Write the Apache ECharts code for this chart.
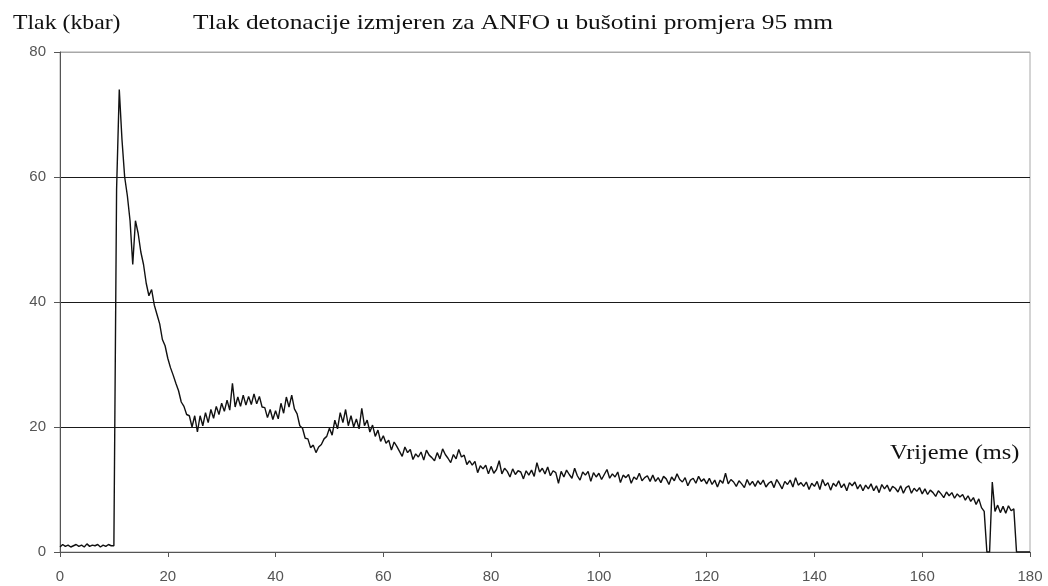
<!DOCTYPE html>
<html>
<head>
<meta charset="utf-8">
<script src="https://cdn.jsdelivr.net/npm/echarts@6/dist/echarts.min.js"></script>
<style>
  html, body { margin: 0; background: #fff; }
  #grafica { width: 1048px; height: 586px; }
</style>
</head>
<body>
<div id="grafica"></div>
<script>
// tiempo en ms, una muestra cada 0.5 ms desde 0
const paso = 0.5;
const ticksX = [0, 20, 40, 60, 80, 100, 120, 140, 160, 180];
const ticksY = [0, 20, 40, 60, 80];

// presion en kbar
const presion = [
  0.8, 1.2, 0.9, 1.1, 0.8, 1.0, 1.2, 0.9, 1.1, 0.8, 1.3, 0.9, 1.1, 1.0, 1.2, 0.8, 1.1, 0.9, 1.2, 1.0,
  1.0, 58, 74, 66, 60, 57, 53, 46, 53, 51, 48, 46, 43, 41, 42, 39.5, 38, 36.5, 34, 33,
  31, 29.5, 28.3, 27, 25.8, 24, 23.3, 22, 21.8, 20, 21.8, 19.2, 21.8, 20.2, 22.3, 20.7, 22.8, 21.4, 23.3, 22,
  23.8, 22.5, 24.3, 22.7, 27, 23.2, 24.8, 23.3, 25.1, 23.5, 24.9, 23.6, 25.3, 23.7, 24.9, 23.2, 23.1, 21.5, 22.8, 21.2,
  22.6, 21.3, 23.8, 22.2, 24.8, 23.2, 25.1, 22.9, 22.1, 20.2, 19.8, 18.2, 18.1, 16.7, 17.1, 15.9, 16.8, 17.2, 18.1, 18.5,
  19.8, 18.7, 21.1, 19.7, 22.3, 20.7, 22.8, 20.2, 21.8, 20.0, 21.3, 19.7, 23, 20.2, 21.1, 19.2, 20.3, 18.5, 19.5, 17.7,
  18.6, 17.4, 17.9, 16.3, 17.6, 16.9, 16.1, 15.3, 16.8, 15.9, 16.4, 14.8, 15.7, 15.2, 16.0, 14.7, 16.3, 15.5, 15.1, 14.6,
  15.9, 14.9, 16.5, 15.6, 15.0, 14.3, 15.6, 14.9, 16.4, 15.2, 15.5, 14.0, 14.6, 13.9, 14.5, 12.7, 13.8, 13.3, 13.9, 12.5,
  13.7, 12.6, 13.2, 14.6, 12.5, 13.4, 12.9, 12.0, 13.3, 12.4, 13.0, 12.8, 11.7, 13.0, 12.3, 13.1, 12.1, 14.3, 12.8, 13.4,
  12.5, 13.6, 12.2, 13.0, 12.7, 11.0, 12.9, 12.0, 13.1, 12.4, 11.8, 13.4, 12.2, 11.5, 12.8, 12.3, 12.9, 11.3, 12.7, 12.0,
  12.6, 11.6, 12.4, 13.2, 11.8, 12.5, 12.0, 12.8, 11.1, 12.3, 11.9, 12.4, 11.0, 12.0, 11.6, 12.6, 11.4, 11.9, 12.2, 11.3,
  12.3, 11.3, 11.9, 11.1, 12.1, 11.7, 10.8, 12.0, 11.4, 12.5, 11.6, 11.2, 11.9, 10.6, 11.5, 11.8, 11.0, 12.1, 11.3, 11.7,
  10.9, 11.8, 10.8, 11.5, 10.4, 11.5, 11.0, 12.6, 10.9, 11.6, 11.2, 10.5, 11.4, 10.9, 10.3, 11.6, 10.7, 11.3, 10.5, 11.4,
  10.8, 11.5, 10.4, 11.0, 11.3, 10.3, 11.6, 10.9, 10.1, 11.3, 10.8, 11.5, 10.4, 11.9, 10.7, 11.1, 10.5, 11.2, 10.0, 11.0,
  10.5, 11.3, 10.0, 11.6, 10.6, 11.1, 9.9, 11.0, 10.5, 11.4, 10.3, 10.9, 9.8, 11.1, 10.6, 11.2, 10.1, 10.8, 9.8, 10.7,
  10.1, 10.9, 9.8, 10.6, 9.5, 10.8, 10.1, 10.7, 9.7, 10.5, 10.2, 9.6, 10.6, 9.4, 10.3, 10.6, 9.4, 10.2, 9.7, 10.3,
  9.3, 10.1, 9.2, 9.9, 9.5, 8.9, 9.8, 9.3, 8.7, 9.6, 9.0, 9.5, 8.6, 9.3, 8.8, 9.2, 8.3, 9.0, 8.1, 8.7,
  7.6, 8.5, 7.1, 6.5, 0, 0, 11.2, 6.5, 7.5, 6.3, 7.3, 6.2, 7.4, 6.6, 6.9, 0, 0, 0, 0, 0,
  0
];

const titulo = "Tlak detonacije izmjeren za ANFO u bušotini promjera 95 mm";
const ejeY = "Tlak (kbar)";
const ejeX = "Vrijeme (ms)";

const datos = presion.map((p, i) => [i * paso, p]);

const fuenteTexto = "22px 'Liberation Serif', 'Times New Roman', serif";

let myChart = echarts.init(document.getElementById("grafica"));
myChart.setOption({
  animation: false,
  backgroundColor: "#fff",
  grid: { left: 60, right: 18, top: 52, bottom: 34, show: true, borderColor: "#a8a8a8", borderWidth: 1 },
  graphic: [
    { type: "text", x: 13, y: 23, scaleX: 1.08, style: { text: ejeY, font: fuenteTexto, fill: "#111", textVerticalAlign: "middle" } },
    { type: "text", x: 193, y: 23, scaleX: 1.155, style: { text: titulo, font: fuenteTexto, fill: "#111", textVerticalAlign: "middle" } },
    { type: "text", x: 890, y: 453, scaleX: 1.11, style: { text: ejeX, font: fuenteTexto, fill: "#111", textVerticalAlign: "middle" } }
  ],
  xAxis: {
    type: "value",
    min: ticksX[0],
    max: ticksX[ticksX.length - 1],
    interval: 20,
    axisLine: { show: true, lineStyle: { color: "#555", width: 1 } },
    axisTick: { show: true, length: 5, lineStyle: { color: "#555" } },
    axisLabel: { color: "#555", fontSize: 15, fontFamily: "Liberation Sans", margin: 17 },
    splitLine: { show: false }
  },
  yAxis: {
    type: "value",
    min: ticksY[0],
    max: ticksY[ticksY.length - 1],
    interval: 20,
    axisLine: { show: true, lineStyle: { color: "#555", width: 1 } },
    axisTick: { show: true, length: 6, lineStyle: { color: "#555" } },
    axisLabel: { color: "#555", fontSize: 15, fontFamily: "Liberation Sans", margin: 14 },
    splitLine: { show: true, lineStyle: { color: ["#555", "#1a1a1a", "#1a1a1a", "#1a1a1a", "#a8a8a8"], width: 1 } }
  },
  series: [
    {
      type: "line",
      data: datos,
      showSymbol: false,
      lineStyle: { color: "#111", width: 1.4 }
    }
  ]
});
</script>
</body>
</html>
